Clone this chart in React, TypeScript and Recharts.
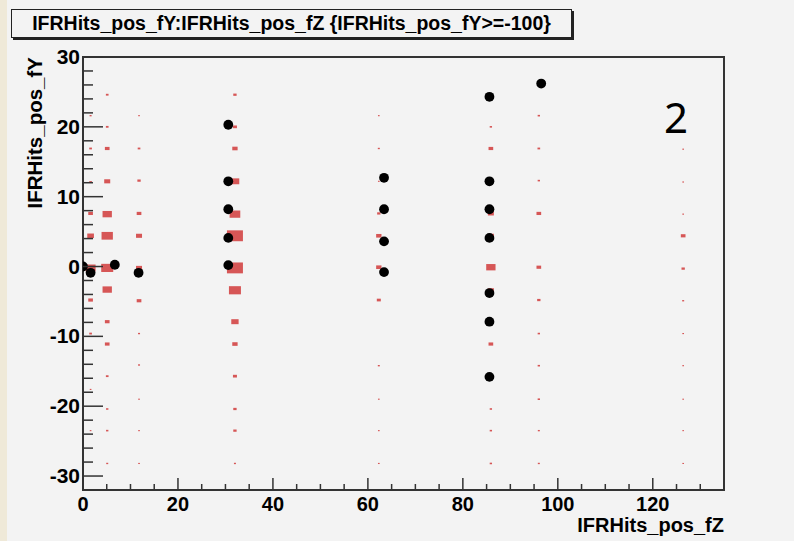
import React from "react";
import { ScatterChart, Scatter, XAxis, YAxis, ReferenceArea } from "recharts";

// z positions of the hit columns
const columnZ = [1.6, 5.1, 11.8, 32.0, 62.3, 85.9, 96.0, 126.4];

// [fY, hits] for every filled cell in each column
const columnCells: number[][][] = [
    [[21.6, 6], [16.9, 8], [12.1, 8], [7.6, 14], [4.4, 20], [-0.2, 30], [-4.8, 14], [-9.6, 8], [-17.6, 5], [-23.5, 5]],
    [[24.6, 8], [20.0, 8], [16.9, 14], [12.2, 18], [7.5, 28], [4.4, 34], [-0.2, 36], [-3.3, 28], [-7.9, 14], [-11.1, 14], [-15.7, 8], [-20.4, 7], [-23.5, 7], [-28.2, 6]],
    [[21.6, 5], [16.9, 8], [12.3, 10], [7.6, 14], [4.4, 18], [-0.2, 18], [-4.9, 14], [-9.6, 6], [-14.1, 6], [-19.0, 5], [-23.5, 5], [-28.2, 5]],
    [[24.6, 10], [20.0, 12], [16.9, 16], [12.2, 26], [7.5, 32], [4.4, 48], [-0.2, 48], [-3.4, 36], [-7.9, 22], [-11.1, 16], [-15.7, 12], [-20.4, 10], [-23.5, 10], [-28.2, 6]],
    [[21.6, 5], [16.9, 6], [12.2, 5], [7.6, 10], [4.4, 16], [-0.1, 16], [-4.8, 12], [-14.2, 6], [-19.0, 5], [-23.5, 5], [-28.2, 5]],
    [[20.0, 7], [16.9, 14], [7.6, 18], [4.4, 18], [-0.1, 28], [-3.4, 18], [-11.1, 14], [-20.4, 7], [-23.5, 7], [-28.2, 7]],
    [[21.6, 7], [16.9, 8], [12.3, 7], [7.6, 14], [-0.1, 14], [-4.8, 10], [-9.6, 7], [-14.2, 7], [-19.0, 7], [-23.5, 6], [-28.2, 6]],
    [[21.6, 5], [16.8, 5], [12.1, 5], [7.5, 5], [4.4, 14], [-0.3, 10], [-4.9, 6], [-9.6, 5], [-14.2, 5], [-19.0, 4], [-23.5, 4], [-28.2, 4]],
];

// selected hits (black markers)
const dotZ = [0, 1.6, 6.7, 11.7, 30.6, 30.6, 30.6, 30.6, 30.6, 63.4, 63.4, 63.4, 63.4, 85.6, 85.6, 85.6, 85.6, 85.6, 85.6, 85.6, 96.5];
const dotY = [0, -0.9, 0.25, -0.9, 20.3, 12.2, 8.2, 4.1, 0.2, 12.7, 8.2, 3.6, -0.8, 24.3, 12.2, 8.2, 4.1, -3.8, -7.9, -15.8, 26.2];

const zTicks = [0, 5, 10, 15, 20, 25, 30, 35, 40, 45, 50, 55, 60, 65, 70, 75, 80, 85, 90, 95, 100, 105, 110, 115, 120, 125, 130];
const yTicks = [-30, -28, -26, -24, -22, -20, -18, -16, -14, -12, -10, -8, -6, -4, -2, 0, 2, 4, 6, 8, 10, 12, 14, 16, 18, 20, 22, 24, 26, 28, 30];

const boxData = columnZ.flatMap((z, i) => columnCells[i].map(([y, hits]) => ({ z, y, hits })));
const dotData = dotZ.map((z, i) => ({ z, y: dotY[i] }));

const FONT = "'Liberation Sans', Arial, Helvetica, sans-serif";
const AXIS = "#333";

const BoxCell = (props: any) => {
    const { cx, cy, payload } = props;
    const w = Math.max(1.6, payload.hits / 3);
    const h = Math.max(1, w * 0.68);
    return <rect x={cx - w / 2} y={cy - h / 2} width={w} height={h} fill="#d65656" />;
};

const Dot = (props: any) => <circle cx={props.cx} cy={props.cy} r={4.9} fill="#000" />;

const ZTick = (props: any) => {
    const { x, y, payload } = props;
    const major = payload.value % 20 === 0;
    return (
        <g>
            <line x1={x} y1={y} x2={x} y2={y - (major ? 12 : 6)} stroke={AXIS} strokeWidth={1.5} />
            {major && (
                <text x={x} y={y + 21} textAnchor="middle" fontFamily={FONT} fontWeight="bold" fontSize={20} fill="#000">
                    {payload.value}
                </text>
            )}
        </g>
    );
};

const YTick = (props: any) => {
    const { x, y, payload } = props;
    const major = payload.value % 10 === 0;
    return (
        <g>
            <line x1={x} y1={y} x2={x + (major ? 20 : 10)} y2={y} stroke={AXIS} strokeWidth={1.5} />
            {major && (
                <text x={x - 3} y={y + 7} textAnchor="end" fontFamily={FONT} fontWeight="bold" fontSize={21} fill="#000">
                    {payload.value}
                </text>
            )}
        </g>
    );
};

export default function App() {
    return (
        <div style={{ position: "absolute", left: 0, top: 0, width: 794, height: 541, background: "#f3f3f3", overflow: "hidden" }}>
            <div style={{ position: "absolute", left: 0, top: 0, width: 7, height: 541, background: "#efe9d8" }} />
            <div
                style={{
                    position: "absolute",
                    left: 11,
                    top: 9,
                    width: 559,
                    height: 27,
                    border: "1px solid #222",
                    boxShadow: "2px 2px 0 #222",
                    background: "#f3f3f3",
                    fontFamily: FONT,
                    fontWeight: "bold",
                    fontSize: 19.5,
                    lineHeight: "27px",
                    textAlign: "center",
                    color: "#000",
                    whiteSpace: "nowrap",
                }}
            >
                {"IFRHits_pos_fY:IFRHits_pos_fZ {IFRHits_pos_fY>=-100}"}
            </div>
            <ScatterChart width={794} height={541} margin={{ top: 57, right: 70, bottom: 0, left: 0 }}>
                <XAxis
                    type="number"
                    dataKey="z"
                    domain={[0, 135]}
                    allowDataOverflow
                    ticks={zTicks}
                    interval={0}
                    height={51}
                    tickSize={0}
                    tickMargin={0}
                    tickLine={false}
                    tick={<ZTick />}
                    axisLine={{ stroke: AXIS, strokeWidth: 2 }}
                    label={{
                        content: (p: any) => (
                            <text x={p.viewBox.x + p.viewBox.width} y={p.viewBox.y + 42} textAnchor="end" fontFamily={FONT} fontWeight="bold" fontSize={20} fill="#000">
                                IFRHits_pos_fZ
                            </text>
                        ),
                    }}
                />
                <YAxis
                    type="number"
                    dataKey="y"
                    domain={[-32, 30]}
                    allowDataOverflow
                    ticks={yTicks}
                    interval={0}
                    width={83}
                    tickSize={0}
                    tickMargin={0}
                    tickLine={false}
                    tick={<YTick />}
                    axisLine={{ stroke: AXIS, strokeWidth: 2 }}
                    label={{
                        content: (p: any) => (
                            <text x={42} y={p.viewBox.y} transform={`rotate(-90 42 ${p.viewBox.y})`} textAnchor="end" fontFamily={FONT} fontWeight="bold" fontSize={20.5} fill="#000">
                                IFRHits_pos_fY
                            </text>
                        ),
                    }}
                />
                <ReferenceArea x1={0} x2={135} y1={-32} y2={30} fill="none" stroke={AXIS} strokeWidth={2} />
                <Scatter data={boxData} shape={<BoxCell />} isAnimationActive={false} />
                <Scatter data={dotData} shape={<Dot />} isAnimationActive={false} />
            </ScatterChart>
            <div style={{ position: "absolute", left: 664, top: 92, fontFamily: "'Noto Sans', sans-serif", fontSize: 42, lineHeight: "50px", color: "#000" }}>2</div>
        </div>
    );
}
